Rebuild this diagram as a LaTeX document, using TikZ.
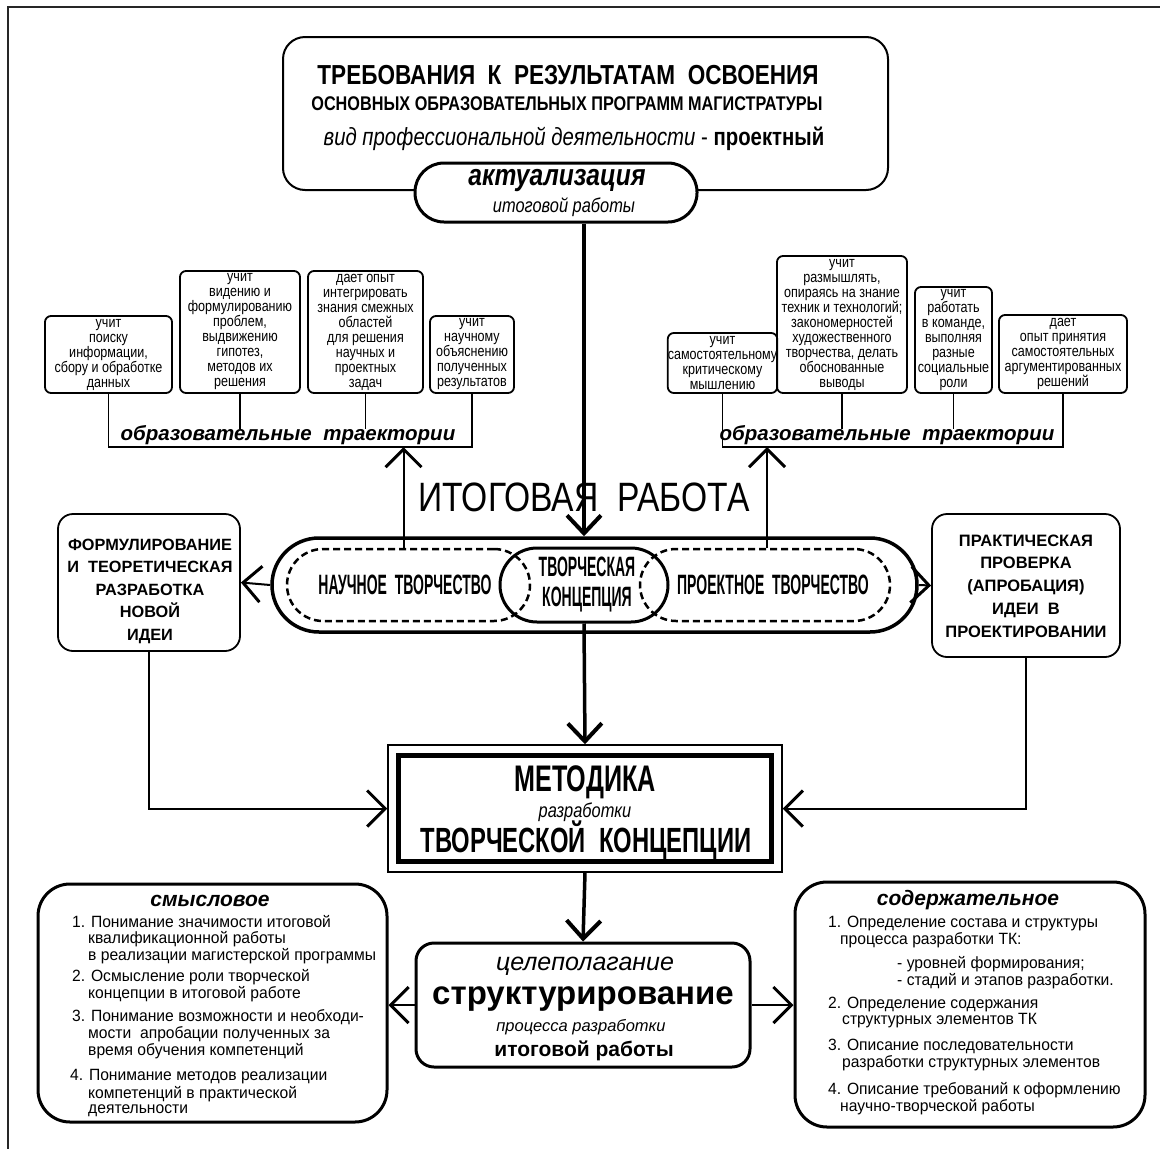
\documentclass[tikz,border=0pt]{standalone}
\usepackage{fontspec}
\setmainfont{Liberation Sans}
\newfontfamily\nar[FakeStretch=0.82]{Liberation Sans}
\newfontfamily\bnar[FakeStretch=0.96]{Liberation Sans}
\newfontfamily\mcond[FakeStretch=0.68]{Liberation Sans}
\newfontfamily\xcond[FakeStretch=0.5]{Liberation Sans}
\usetikzlibrary{arrows.meta}
\newcommand\fs[2]{\fontsize{#1}{#2}\selectfont}
\tikzset{
  thinbox/.style={draw, line width=1.8pt, rounded corners=6pt, inner sep=0pt, align=center, font=\nar\fs{15.3}{15}},
  arrT/.style={line width=2pt, -{Straight Barb[length=18pt,width=36pt,line width=3pt]}},
  arrK/.style={line width=3.5pt, -{Straight Barb[length=18pt,width=34pt,line width=4pt]}},
  dsh/.style={draw, line width=2.5pt, dash pattern=on 7pt off 4pt},
  itm/.style={anchor=west, inner sep=0pt, font=\bnar\fs{16.3}{16}},
  brk/.style={line width=1.8pt},
}
\begin{document}
\begin{tikzpicture}[x=1pt,y=-1pt]
\useasboundingbox (0,0) rectangle (1160,1149);
\draw[line width=2pt, black!85] (8,1149) -- (8,7) -- (1160,7);

% top box
\node[draw, line width=2pt, rounded corners=22pt, minimum width=605pt, minimum height=153pt] (req) at (585.5,113.5) {};
\node[font=\nar\bfseries\fs{27.5}{27.5}] (t1) at (568,75) {ТРЕБОВАНИЯ\ \ К\ \ РЕЗУЛЬТАТАМ\ \ ОСВОЕНИЯ};
\node[font=\nar\bfseries\fs{19.8}{19.8}] (t2) at (567,104) {ОСНОВНЫХ ОБРАЗОВАТЕЛЬНЫХ ПРОГРАММ МАГИСТРАТУРЫ};
\node[font=\nar\fs{24.8}{24.8}] (t3) at (574,139) {\itshape вид профессиональной деятельности \upshape - \bfseries проектный};

% pill
\node[draw, fill=white, line width=3pt, rounded corners=29pt, minimum width=282pt, minimum height=59pt] (act) at (556,192.5) {};
\node[font=\bfseries\itshape\nar\fs{30}{30}] (a1) at (557,181) {актуализация};
\node[font=\itshape\nar\fs{20}{20}] (a2) at (564,207) {итоговой работы};

% left small boxes
\node[thinbox, minimum width=127pt, minimum height=77pt] (b1) at (108.5,354.5) {учит\\поиску\\информации,\\сбору и обработке\\данных};
\node[thinbox, minimum width=120pt, minimum height=122pt] (b2) at (240,332) {учит\\видению и\\формулированию\\проблем,\\выдвижению\\гипотез,\\методов их\\решения};
\node[thinbox, minimum width=115pt, minimum height=122pt] (b3) at (365.5,332) {дает опыт\\интегрировать\\знания смежных\\областей\\для решения\\научных и\\проектных\\задач};
\node[thinbox, minimum width=84pt, minimum height=77pt] (b4) at (472,354.5) {учит\\научному\\объяснению\\полученных\\результатов};

% right small boxes
\node[thinbox, minimum width=91pt, minimum height=60pt] (b5) at (722.5,363) {учит\\самостоятельному\\критическому\\мышлению};
\node[thinbox, minimum width=130pt, minimum height=137pt] (b6) at (842,324.5) {учит\\размышлять,\\опираясь на знание\\техник и технологий;\\закономерностей\\художественного\\творчества, делать\\обоснованные\\выводы};
\node[thinbox, minimum width=77pt, minimum height=106pt] (b7) at (953.5,340) {учит\\работать\\в команде,\\выполняя\\разные\\социальные\\роли};
\node[thinbox, minimum width=128pt, minimum height=78pt] (b8) at (1063,354) {дает\\опыт принятия\\самостоятельных\\аргументированных\\решений};

% brackets
\coordinate (lbr) at (290,447);
\coordinate (rbr) at (890,447);
\draw[brk] (b1.south) -- (b1.south |- lbr) -- (b4.south |- lbr) -- (b4.south);
\draw[brk] (b2.south) -- ++(0,35);
\draw[brk] (b3.south) -- ++(0,35);
\node[font=\bfseries\itshape\fs{20.5}{20.5}] (tr1) at (288,435) {образовательные\ \ траектории};
\draw[brk] (b5.south) -- (b5.south |- rbr) -- (b8.south |- rbr) -- (b8.south);
\draw[brk] (b6.south) -- ++(0,35);
\draw[brk] (b7.south) -- ++(0,35);
\node[font=\bfseries\itshape\fs{20.5}{20.5}] (tr2) at (887,435) {образовательные\ \ траектории};

% title
\node[font=\nar\fs{41}{41}] (itog) at (584,497) {ИТОГОВАЯ\ \ РАБОТА};

% capsule
\node[draw, line width=3.5pt, rounded corners=47pt, minimum width=645pt, minimum height=94pt] (cap) at (594.5,585) {};
\node[dsh, rounded corners=36pt, minimum width=243pt, minimum height=72pt] (sci) at (408.5,585) {};
\node[dsh, rounded corners=36pt, minimum width=250pt, minimum height=72pt] (prj) at (765,585) {};
\node[draw, line width=3pt, rounded corners=37pt, minimum width=168pt, minimum height=74pt] (tk) at (584,585) {};
\node[font=\xcond\bfseries\fs{28}{28}] (scit) at (405,585) {НАУЧНОЕ\ \ ТВОРЧЕСТВО};
\node[font=\xcond\bfseries\fs{28}{28}] (prjt) at (773,585) {ПРОЕКТНОЕ\ \ ТВОРЧЕСТВО};
\node[font=\xcond\bfseries\fs{28}{30}, align=center] (tkt) at (587,585) {ТВОРЧЕСКАЯ\\КОНЦЕПЦИЯ};

% main vertical arrow
\draw[arrK] (act.south -| tk.north) -- (cap.north -| tk.north);
% up arrows
\draw[arrT] ([xshift=-5pt]sci.north) -- ([xshift=-5pt]sci.north |- lbr);
\draw[arrT] ([xshift=2pt]prj.north) -- ([xshift=2pt]prj.north |- rbr);

% side boxes
\node[draw, line width=1.8pt, rounded corners=15pt, minimum width=182pt, minimum height=137pt] (lb) at (149,582.5) {};
\node[align=center, font=\bfseries\fs{16.3}{22.5}] (lbt) at (150,591) {ФОРМУЛИРОВАНИЕ\\И\ \ ТЕОРЕТИЧЕСКАЯ\\РАЗРАБОТКА\\НОВОЙ\\ИДЕИ};
\node[draw, line width=1.8pt, rounded corners=15pt, minimum width=188pt, minimum height=143pt] (rb) at (1026,585.5) {};
\node[align=center, font=\bfseries\fs{16.5}{22.8}] (rbt) at (1026,586) {ПРАКТИЧЕСКАЯ\\ПРОВЕРКА\\(АПРОБАЦИЯ)\\ИДЕИ\ \ В\\ПРОЕКТИРОВАНИИ};
\draw[arrT] (cap.west) -- (lb.east);
\draw[arrT] (cap.east) -- (rb.west);

% methodology
\node[draw, line width=1.5pt, minimum width=394pt, minimum height=127pt] (met) at (585,808.5) {};
\node[draw, line width=5pt, minimum width=373pt, minimum height=106pt] (meti) at (585,808.5) {};
\node[font=\mcond\bfseries\fs{37}{37}] (m1) at (585,782) {МЕТОДИКА};
\node[font=\nar\itshape\fs{20}{20}] (m2) at (585,812) {разработки};
\node[font=\mcond\bfseries\fs{35}{35}] (m3) at (586,840) {ТВОРЧЕСКОЙ\ \ КОНЦЕПЦИИ};

\draw[arrK] (tk.south) -- (met.north);
\draw[arrT] (lb.south) |- (met.west);
\draw[arrT] (rb.south) |- (met.east);

% structuring
\node[draw, line width=3pt, rounded corners=18pt, minimum width=334pt, minimum height=124pt] (str) at (583,1005) {};
\node[font=\itshape\fs{25}{25}] (s1) at (585,966) {целеполагание};
\node[font=\bfseries\fs{33}{33}] (s2) at (583,999) {структурирование};
\node[font=\itshape\fs{16.5}{16.5}] (s3) at (581,1027) {процесса разработки};
\node[font=\bfseries\fs{21}{21}] (s4) at (584,1051) {итоговой работы};
\draw[arrK] (met.south) -- (str.north);

% bottom boxes
\node[draw, line width=3pt, rounded corners=32pt, minimum width=349pt, minimum height=238pt] (bl) at (212.5,1003) {};
\node[draw, line width=3pt, rounded corners=32pt, minimum width=350pt, minimum height=245pt] (br) at (970,1004.5) {};
\draw[arrT] (str.west) -- (bl.east |- str.west);
\draw[arrT] (str.east) -- (br.west |- str.east);

\node[font=\bfseries\itshape\fs{21}{21}] (blt) at (210,901) {смысловое};
\node[itm] at (72,922) {1. Понимание значимости итоговой};
\node[itm] at (88,939) {квалификационной работы};
\node[itm] at (88,956) {в реализации магистерской программы};
\node[itm] at (72,977) {2. Осмысление роли творческой};
\node[itm] at (88,994) {концепции в итоговой работе};
\node[itm] at (72,1017) {3. Понимание возможности и необходи-};
\node[itm] at (88,1034) {мости\ \ апробации полученных за};
\node[itm] at (88,1051) {время обучения компетенций};
\node[itm] at (70,1077) {4. Понимание методов реализации};
\node[itm] at (88,1094) {компетенций в практической};
\node[itm] at (88,1111) {деятельности};

\node[font=\bfseries\itshape\fs{21}{21}] (brt) at (968,900) {содержательное};
\node[itm] at (828,923) {1. Определение состава и структуры};
\node[itm] at (840,940) {процесса разработки ТК:};
\node[itm] at (897,964) {- уровней формирования;};
\node[itm] at (897,981) {- стадий и этапов разработки.};
\node[itm] at (828,1004) {2. Определение содержания};
\node[itm] at (842,1021) {структурных элементов ТК};
\node[itm] at (828,1046) {3. Описание последовательности};
\node[itm] at (842,1063) {разработки структурных элементов};
\node[itm] at (828,1090) {4. Описание требований к оформлению};
\node[itm] at (840,1107) {научно-творческой работы};
\end{tikzpicture}
\end{document}
